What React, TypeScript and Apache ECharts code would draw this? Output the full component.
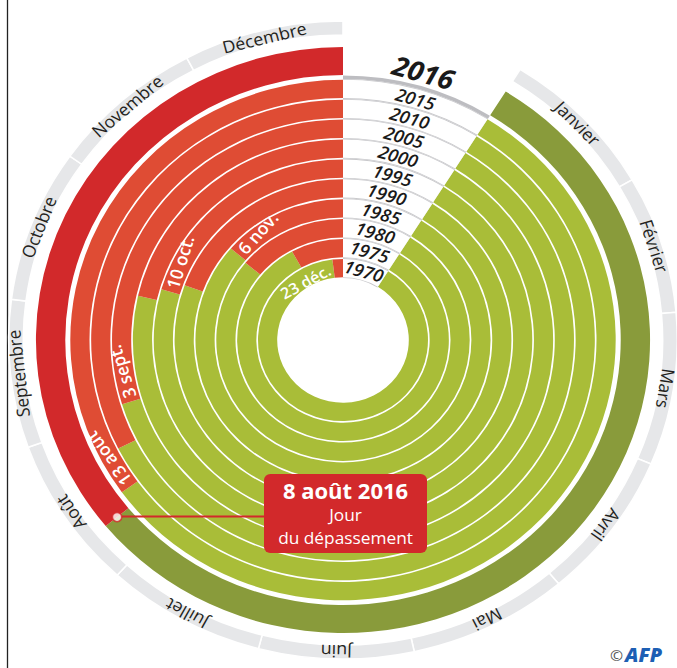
import React, { useEffect, useRef } from 'react';
import * as echarts from 'echarts';

// ---- data ----
const years = ['1970', '1975', '1980', '1985', '1990', '1995', '2000', '2005', '2010', '2015'];
// overshoot day as day of the year
const overshootDay = [357, 333, 309, 310, 287, 283, 279, 246, 235, 225];
const dateLabels = ['23 déc.', '', '', '6 nov.', '', '10 oct.', '', '3 sept.', '', '13 août'];
const currentYear = '2016';
const overshootCurrent = 221;
const months = ['Janvier', 'Février', 'Mars', 'Avril', 'Mai', 'Juin', 'Juillet', 'Août', 'Septembre', 'Octobre', 'Novembre', 'Décembre'];
const monthDays = [31, 28, 31, 30, 31, 30, 31, 31, 30, 31, 30, 31];
const YEAR_DAYS = 365;

// horizontal stretch of the whole graphic (the original is slightly elliptical)
const SX = 1.048;
const OX = 343;
const px = (x: number) => OX + (x - OX) / SX;

export default function App() {
  const ref = useRef<HTMLDivElement>(null);
  useEffect(() => {
    const chart = echarts.init(ref.current!, null, { renderer: 'svg' });
    const C = [OX, 340];
    const SPAN = 328; // degrees used by the year
    const START = 90 - (360 - SPAN);
    const TOTAL = (YEAR_DAYS * 360) / SPAN;
    const GAP = TOTAL - YEAR_DAYS;
    const font = '"Open Sans", "Noto Sans", sans-serif';
    const dayAngle = (d: number) => (360 - SPAN) + (d / YEAR_DAYS) * SPAN; // clockwise from top

    const polarRadii = [
      [62, 261], // 0 rings
      [62, 261], // 1 gray separators in gap
      [265, 293], // 2 current year
      [261, 264.5], // 3 gray arc
      [305, 319], // 4 months
    ];
    const polar = polarRadii.map((r) => ({ center: C, radius: r }));
    const angleAxis = polarRadii.map((_, i) => ({
      polarIndex: i, type: 'value', min: 0, max: TOTAL, startAngle: START, clockwise: true, show: false,
    }));
    const radiusAxis = [
      { polarIndex: 0, type: 'category', data: years, show: false },
      { polarIndex: 1, type: 'category', data: years, show: false },
      { polarIndex: 2, type: 'category', data: [currentYear], show: false },
      { polarIndex: 3, type: 'category', data: [currentYear], show: false },
      { polarIndex: 4, type: 'category', data: ['mois'], show: false },
    ];

    const dateLab = (txt: string, pos: string, extra: any = {}) => ({
      show: true, formatter: txt, position: pos, color: '#fff', fontSize: 17, fontWeight: 600,
      fontFamily: font, distance: 4, ...extra,
    });

    const series: any[] = [];
    series.push({
      type: 'bar', coordinateSystem: 'polar', polarIndex: 1, stack: 'sep', barCategoryGap: '0%', silent: true, z: 1,
      data: years.map(() => YEAR_DAYS), itemStyle: { color: 'rgba(0,0,0,0)' },
    });
    series.push({
      type: 'bar', coordinateSystem: 'polar', polarIndex: 1, stack: 'sep', silent: true, z: 1,
      data: years.map(() => GAP), itemStyle: { color: '#c9c9cc' },
    });
    series.push({
      type: 'bar', coordinateSystem: 'polar', polarIndex: 0, stack: 'y', barCategoryGap: '8%', z: 2,
      itemStyle: { color: '#a9bd38' },
      data: overshootDay.map((d, i) => ({
        value: d,
        label: dateLabels[i] && YEAR_DAYS - d < 20
          ? dateLab(dateLabels[i], 'insideEnd', { fontSize: 15.5, rotate: (-(dayAngle(d) - 22) * Math.PI) / 180 })
          : { show: false },
      })),
    });
    series.push({
      type: 'bar', coordinateSystem: 'polar', polarIndex: 0, stack: 'y', z: 2,
      itemStyle: { color: '#df4c34' },
      data: overshootDay.map((d, i) => ({
        value: YEAR_DAYS - d,
        label: dateLabels[i] && YEAR_DAYS - d >= 20 ? dateLab(dateLabels[i], 'insideStart') : { show: false },
      })),
    });
    series.push({
      type: 'bar', coordinateSystem: 'polar', polarIndex: 0, stack: 'y', z: 2,
      itemStyle: { color: '#ffffff' },
      data: years.map(() => GAP),
      label: {
        show: true, position: 'middle', formatter: (p: any) => years[p.dataIndex],
        color: '#1a1a1a', fontSize: 17.5, fontStyle: 'italic', fontWeight: 600, fontFamily: font,
      },
    });
    series.push({
      type: 'bar', coordinateSystem: 'polar', polarIndex: 2, stack: 'c', barCategoryGap: '0%', z: 2,
      itemStyle: { color: '#899b3b' }, data: [overshootCurrent],
    });
    series.push({
      type: 'bar', coordinateSystem: 'polar', polarIndex: 2, stack: 'c', z: 2,
      itemStyle: { color: '#d2292b' }, data: [YEAR_DAYS - overshootCurrent],
    });
    series.push({
      type: 'bar', coordinateSystem: 'polar', polarIndex: 2, stack: 'c', z: 2,
      itemStyle: { color: 'rgba(0,0,0,0)' }, data: [GAP],
      label: {
        show: true, position: 'middle', formatter: currentYear, color: '#1a1a1a', fontSize: 27,
        fontStyle: 'italic', fontWeight: 'bold', fontFamily: font,
      },
    });
    series.push({
      type: 'scatter', coordinateSystem: 'polar', polarIndex: 2, z: 6, symbol: 'circle', symbolSize: 9,
      data: [[currentYear, overshootCurrent]],
      itemStyle: { color: '#ffffff', borderColor: '#d2292b', borderWidth: 1.5 },
    });
    series.push({
      type: 'bar', coordinateSystem: 'polar', polarIndex: 3, stack: 'g', barCategoryGap: '0%', z: 2,
      itemStyle: { color: 'rgba(0,0,0,0)' }, data: [YEAR_DAYS],
    });
    series.push({
      type: 'bar', coordinateSystem: 'polar', polarIndex: 3, stack: 'g', z: 2,
      itemStyle: { color: '#bdbdc1' }, data: [GAP],
    });
    let cum = 0;
    months.forEach((m, i) => {
      const midDeg = dayAngle(cum + monthDays[i] / 2);
      cum += monthDays[i];
      series.push({
        type: 'bar', coordinateSystem: 'polar', polarIndex: 4, stack: 'm', barCategoryGap: '0%', z: 2,
        itemStyle: { color: '#e6e7e9', borderColor: '#ffffff', borderWidth: 1.5 },
        data: [{
          value: monthDays[i],
          label: {
            show: true, position: 'middle', formatter: m, rotate: (-midDeg * Math.PI) / 180,
            color: '#231f20', fontSize: 17, fontFamily: font,
          },
        }],
      });
    });

    const red = '#d2292b';
    const boxL = px(264);
    const boxR = px(427);
    const cx = px(345.5);
    chart.setOption({
      animation: false,
      polar, angleAxis, radiusAxis, series,
      graphic: [
        { type: 'line', shape: { x1: px(7.5), y1: 0, x2: px(7.5), y2: 668 }, style: { stroke: '#222', lineWidth: 1.3 / SX } },
        { type: 'line', z: 5, shape: { x1: px(120), y1: 516.5, x2: boxL, y2: 516.5 }, style: { stroke: red, lineWidth: 2 } },
        { type: 'rect', z: 5, shape: { x: boxL, y: 474, width: boxR - boxL, height: 79, r: 6 }, style: { fill: red } },
        { type: 'text', z: 6, x: cx, y: 491, style: { text: '8 août 2016', fill: '#fff', font: `bold 21px ${font}`, align: 'center', verticalAlign: 'middle' } },
        { type: 'text', z: 6, x: cx, y: 515, style: { text: 'Jour', fill: '#fff', font: `16.5px ${font}`, align: 'center', verticalAlign: 'middle' } },
        { type: 'text', z: 6, x: cx, y: 538, style: { text: 'du dépassement', fill: '#fff', font: `16.5px ${font}`, align: 'center', verticalAlign: 'middle' } },
        { type: 'text', x: px(610), y: 648, style: { text: '©', fill: '#555', font: `15px ${font}` } },
        { type: 'text', x: px(625), y: 645, style: { text: 'AFP', fill: '#1d5fb4', font: `italic 900 19px ${font}` } },
      ],
    });
    return () => chart.dispose();
  }, []);
  return (
    <div
      ref={ref}
      style={{
        position: 'absolute', left: 0, top: 0, width: 677, height: 668,
        transform: `scaleX(${SX})`, transformOrigin: `${OX}px 0px`,
      }}
    />
  );
}
